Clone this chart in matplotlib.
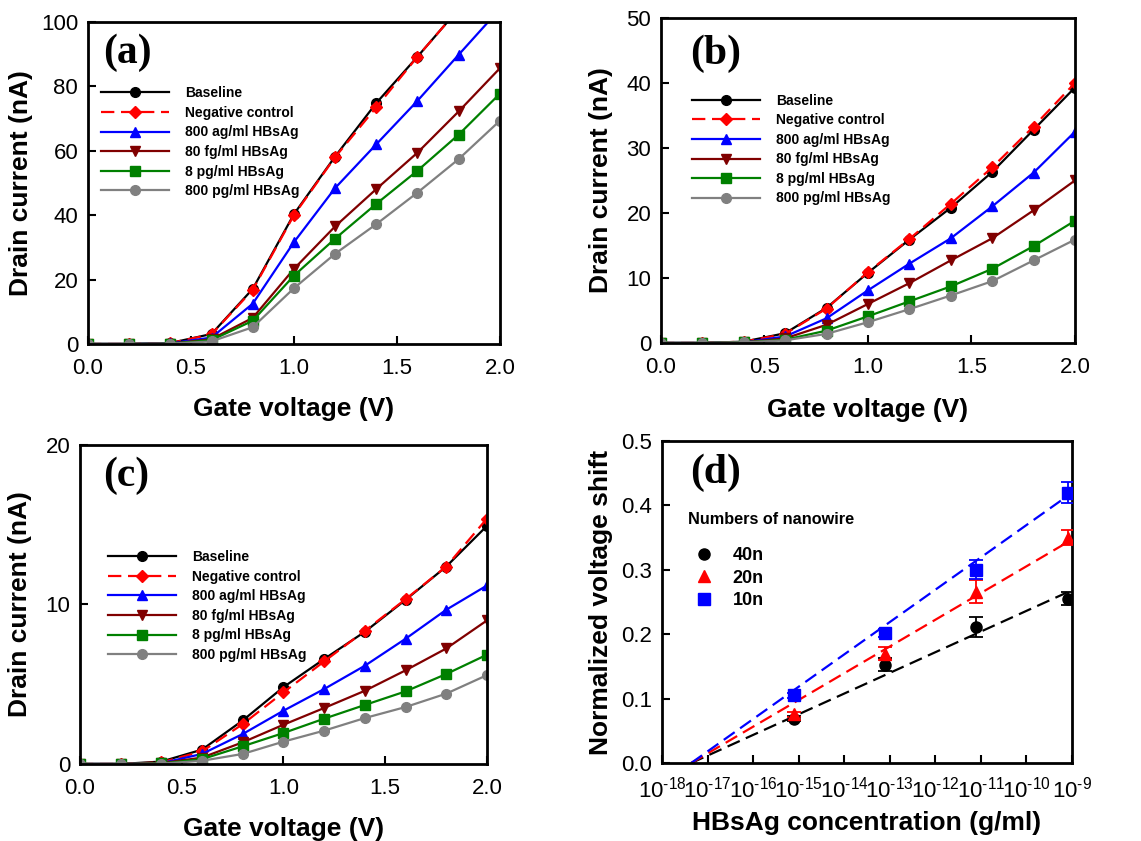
import numpy as np
import matplotlib
matplotlib.use("Agg")
import matplotlib.pyplot as plt
from matplotlib.lines import Line2D

plt.rcParams['font.family'] = ['Liberation Sans', 'DejaVu Sans']
plt.rcParams['mathtext.fontset'] = 'custom'
plt.rcParams['mathtext.rm'] = 'Liberation Sans'
plt.rcParams['mathtext.it'] = 'Liberation Sans:italic'
plt.rcParams['mathtext.bf'] = 'Liberation Sans:bold'

# gate voltage sweep
vg = [0.0, 0.2, 0.4, 0.6, 0.8, 1.0, 1.2, 1.4, 1.6, 1.8, 2.0]

labels = ['Baseline', 'Negative control', '800 ag/ml HBsAg',
          '80 fg/ml HBsAg', '8 pg/ml HBsAg', '800 pg/ml HBsAg']

# panel (a), 40 nanowires
a_base = [0, 0, 0.3, 3.1, 17.1, 40.3, 58.2, 74.8, 89.2, 104, 118]
a_neg  = [0, 0, 0.3, 3.0, 16.8, 40.0, 58.0, 73.5, 89.2, 104, 118]
a_800a = [0, 0, 0.2, 2.0, 12.5, 31.6, 48.4, 62.0, 75.5, 89.8, 104]
a_80f  = [0, 0, 0.1, 1.5, 8.1, 23.3, 36.5, 48.1, 59.4, 72.2, 85.6]
a_8p   = [0, 0, 0.1, 1.2, 7.2, 21.2, 32.7, 43.5, 53.8, 65.0, 77.7]
a_800p = [0, 0, 0.1, 0.8, 5.2, 17.3, 28.0, 37.2, 47.0, 57.4, 69.3]

# panel (b), 20 nanowires
b_base = [0, 0, 0.2, 1.5, 5.4, 10.8, 15.9, 20.8, 26.3, 32.8, 39.3]
b_neg  = [0, 0, 0.2, 1.4, 5.3, 10.9, 16.0, 21.4, 27.0, 33.3, 40.0]
b_800a = [0, 0, 0.1, 1.0, 3.8, 8.1, 12.2, 16.1, 21.0, 26.2, 32.5]
b_80f  = [0, 0, 0.1, 0.7, 2.8, 6.0, 9.2, 12.7, 16.1, 20.4, 25.0]
b_8p   = [0, 0, 0.1, 0.5, 1.9, 4.1, 6.4, 8.7, 11.4, 14.9, 18.8]
b_800p = [0, 0, 0.1, 0.4, 1.4, 3.2, 5.2, 7.3, 9.5, 12.7, 15.9]

# panel (c), 10 nanowires
c_base = [0, 0, 0.15, 0.9, 2.73, 4.82, 6.58, 8.29, 10.29, 12.38, 14.93]
c_neg  = [0, 0, 0.1, 0.79, 2.5, 4.49, 6.43, 8.35, 10.33, 12.38, 15.39]
c_800a = [0, 0, 0.05, 0.63, 1.88, 3.34, 4.70, 6.16, 7.85, 9.67, 11.19]
c_80f  = [0, 0, 0.05, 0.4, 1.36, 2.46, 3.51, 4.59, 5.87, 7.24, 9.0]
c_8p   = [0, 0, 0.03, 0.3, 1.11, 1.94, 2.84, 3.70, 4.55, 5.64, 6.85]
c_800p = [0, 0, 0.02, 0.2, 0.63, 1.40, 2.09, 2.88, 3.57, 4.41, 5.57]

# panel (d)
conc = [8e-16, 8e-14, 8e-12, 8e-10]
shift_40n = [0.069, 0.153, 0.211, 0.255]
err_40n = [0.004, 0.010, 0.015, 0.010]
shift_20n = [0.076, 0.170, 0.266, 0.350]
err_20n = [0.004, 0.010, 0.018, 0.012]
shift_10n = [0.105, 0.202, 0.300, 0.420]
err_10n = [0.004, 0.006, 0.015, 0.017]
# fitted lines: common x-intercept (log10), end point and slopes per decade
fit_x0 = -17.36
fit_x1 = -9.11
fit_slope = [0.0321, 0.0415, 0.0502]

styles = [
    dict(color='black', marker='o', ls='-'),
    dict(color='red', marker='D', ls=(0, (6, 3)), ms=6),
    dict(color='blue', marker='^', ls='-'),
    dict(color='#800000', marker='v', ls='-'),
    dict(color='#008000', marker='s', ls='-'),
    dict(color='#808080', marker='o', ls='-'),
]

fig = plt.figure(figsize=(11.41, 8.41), dpi=100)


def style_axes(ax):
    for s in ax.spines.values():
        s.set_linewidth(2.0)
    ax.tick_params(direction='in', length=6, width=1.5, labelsize=16,
                   top=False, right=False)
    ax.tick_params(axis='x', pad=10)
    ax.tick_params(axis='y', pad=7)


def iv_panel(rect, series, ymax, ystep, tag, tag_xy, leg_xy, ylab_x, xlab_y):
    ax = fig.add_axes(rect)
    for ys, lab, st in zip(series, labels, styles):
        st = dict(st)
        ms = st.pop('ms', 7)
        ax.plot(vg, ys, lw=1.6, ms=ms, label=lab, **st)
    ax.set_xlim(0, 2.0)
    ax.set_ylim(0, ymax)
    ax.set_xticks([0.0, 0.5, 1.0, 1.5, 2.0])
    ax.set_xticklabels(['0.0', '0.5', '1.0', '1.5', '2.0'])
    ax.set_yticks(np.arange(0, ymax + 0.1, ystep))
    style_axes(ax)
    ax.set_xlabel('Gate voltage (V)', fontsize=19, fontweight='bold')
    ax.set_ylabel('Drain current (nA)', fontsize=19, fontweight='bold')
    ax.xaxis.set_label_coords(0.5, xlab_y)
    ax.yaxis.set_label_coords(ylab_x, 0.5)
    ax.text(tag_xy[0], tag_xy[1], tag, transform=ax.transAxes,
            fontsize=30, fontweight='bold', family='Liberation Serif',
            va='center', ha='left')
    ax.legend(loc='upper left', bbox_to_anchor=leg_xy, frameon=False,
              prop={'weight': 'bold', 'size': 10}, handlelength=4.9,
              handletextpad=1.15, labelspacing=0.4, borderpad=0,
              borderaxespad=0)
    return ax


iv_panel([0.0771, 0.591, 0.361, 0.383],
         [a_base, a_neg, a_800a, a_80f, a_8p, a_800p], 100, 20, '(a)',
         (0.036, 0.905), (0.032, 0.80), -0.133, -0.166)
iv_panel([0.5793, 0.5922, 0.3628, 0.3864],
         [b_base, b_neg, b_800a, b_80f, b_8p, b_800p], 50, 10, '(b)',
         (0.07, 0.89), (0.075, 0.767), -0.116, -0.168)
iv_panel([0.0701, 0.0916, 0.3567, 0.3793],
         [c_base, c_neg, c_800a, c_80f, c_8p, c_800p], 20, 10, '(c)',
         (0.057, 0.905), (0.069, 0.67), -0.118, -0.165)

# panel (d)
ax = fig.add_axes([0.5802, 0.0927, 0.3593, 0.3829])
ax.set_xscale('log')
groups = [('40n', shift_40n, err_40n, 'black', 'o'),
          ('20n', shift_20n, err_20n, 'red', '^'),
          ('10n', shift_10n, err_10n, 'blue', 's')]
xf = np.array([fit_x0, fit_x1])
handles = []
for (lab, ys, es, col, mk), sl in zip(groups, fit_slope):
    ax.plot(10 ** xf, sl * (xf - fit_x0), color=col, lw=1.6,
            ls=(0, (6, 3)), zorder=2)
    ax.errorbar(conc, ys, yerr=es, fmt=mk, color=col, ms=8, capsize=5,
                elinewidth=1.3, capthick=1.3, zorder=3)
    handles.append(Line2D([], [], ls='', marker=mk, color=col, ms=8,
                          label=lab))
ax.set_xlim(1e-18, 1e-9)
ax.set_ylim(0, 0.5)
ax.set_xticks([10.0 ** k for k in range(-18, -8)])
ax.set_xticklabels([r'$\mathregular{10^{\text{-}%d}}$' % k
                    for k in range(18, 8, -1)])
ax.xaxis.set_minor_locator(matplotlib.ticker.NullLocator())
ax.set_yticks([0.0, 0.1, 0.2, 0.3, 0.4, 0.5])
ax.set_yticklabels(['0.0', '0.1', '0.2', '0.3', '0.4', '0.5'])
style_axes(ax)
ax.set_xlabel('HBsAg concentration (g/ml)', fontsize=19, fontweight='bold')
ax.set_ylabel('Normalized voltage shift', fontsize=19, fontweight='bold')
ax.xaxis.set_label_coords(0.5, -0.149)
ax.yaxis.set_label_coords(-0.12, 0.5)
ax.text(0.068, 0.9, '(d)', transform=ax.transAxes, fontsize=30,
        fontweight='bold', family='Liberation Serif', va='center', ha='left')
ax.text(0.063, 0.755, 'Numbers of nanowire', transform=ax.transAxes,
        fontsize=11.7, fontweight='bold', va='center', ha='left')
ax.legend(handles=handles, loc='upper left', bbox_to_anchor=(0.08, 0.67),
          frameon=False, prop={'weight': 'bold', 'size': 13},
          handlelength=1.0, handletextpad=1.1, labelspacing=0.3,
          borderpad=0, borderaxespad=0)

fig.savefig('out.png', dpi=100)
